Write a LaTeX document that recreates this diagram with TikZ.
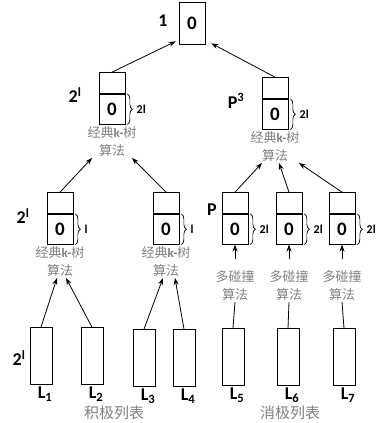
\documentclass[tikz,border=0pt]{standalone}
\usepackage{fontspec}
\setmainfont{Carlito}
\newfontfamily\cjk{Noto Sans CJK SC}
\usepackage{xcolor}
\usetikzlibrary{arrows.meta, positioning, calc, decorations.pathreplacing}

\begin{document}
\begin{tikzpicture}[
    x=1pt, y=-1pt,
    node distance = 1pt and 1pt,
    cell/.style = {rectangle, draw=black, line width=0.7pt, minimum width=26pt, inner sep=0pt, font=\fontsize{19}{20}\selectfont\bfseries},
    head/.style = {cell, minimum height=21pt},
    body/.style = {cell, minimum height=30pt},
    list/.style = {rectangle, draw=black, line width=0.7pt, minimum width=22pt, minimum height=57pt, inner sep=0pt},
    algo/.style = {align=center, text=black!50, inner sep=1pt, font=\fontsize{13}{18}\selectfont\cjk},
    caption/.style = {text=black!50, inner sep=1pt, font=\fontsize{15}{16}\selectfont\cjk},
    tag/.style = {inner sep=1pt, font=\fontsize{18}{20}\selectfont\bfseries},
    size/.style = {inner sep=1pt, font=\fontsize{12}{12}\selectfont\bfseries},
    arrow/.style = {-{Stealth[length=7pt,width=5pt]}, line width=0.8pt},
    link/.style = {line width=0.8pt},
    bracket/.style = {decorate, decoration={brace, amplitude=5pt}, line width=0.7pt}
]
    \useasboundingbox (0,0) rectangle (382,423);

    % root
    \node[cell, minimum height=42pt] (root) at (192,23) {0};
    \node[tag] (rootlab) at (163,21) {1};

    % second level
    \node[head] (lmh) at (112,83) {};
    \node[body, below=0pt of lmh] (lmb) {0};
    \node[algo, below=1pt of lmb] (lmt) {经典{\rmfamily\bfseries k-}树\\算法};
    \node[tag] (lmlab) at (75,95) {2\textsuperscript{l}};
    \draw[bracket] ([xshift=2pt]lmb.north east) -- ([xshift=2pt]lmb.south east) node[size, midway, right=8pt] (lmsize) {2l};

    \node[head] (rmh) at (275,88) {};
    \node[body, below=0pt of rmh] (rmb) {0};
    \node[algo, below=1pt of rmb] (rmt) {经典{\rmfamily\bfseries k-}树\\算法};
    \node[tag] (rmlab) at (236,101) {P\textsuperscript{3}};
    \draw[bracket] ([xshift=2pt]rmb.north east) -- ([xshift=2pt]rmb.south east) node[size, midway, right=8pt] (rmsize) {2l};

    % third level, left
    \node[head] (lah) at (60,203) {};
    \node[body, below=0pt of lah] (lab) {0};
    \node[algo, below=1pt of lab] (lat) {经典{\rmfamily\bfseries k-}树\\算法};
    \node[tag] (lalab) at (23,216) {2\textsuperscript{l}};
    \draw[bracket] ([xshift=2pt]lab.north east) -- ([xshift=2pt]lab.south east) node[size, midway, right=8pt] (lasize) {l};

    \node[head] (lbh) at (166,203) {};
    \node[body, below=0pt of lbh] (lbb) {0};
    \node[algo, below=1pt of lbb] (lbt) {经典{\rmfamily\bfseries k-}树\\算法};
    \draw[bracket] ([xshift=2pt]lbb.north east) -- ([xshift=2pt]lbb.south east) node[size, midway, right=8pt] (lbsize) {l};

    % third level, right
    \node[head] (rah) at (235,203) {};
    \node[body, below=0pt of rah] (rab) {0};
    \node[algo, below=25pt of rab] (rat) {多碰撞\\算法};
    \node[tag] (ralab) at (212,210) {P};
    \draw[bracket] ([xshift=2pt]rab.north east) -- ([xshift=2pt]rab.south east) node[size, midway, right=8pt] (rasize) {2l};

    \node[head] (rbh) at (289,203) {};
    \node[body, below=0pt of rbh] (rbb) {0};
    \node[algo, below=25pt of rbb] (rbt) {多碰撞\\算法};
    \draw[bracket] ([xshift=2pt]rbb.north east) -- ([xshift=2pt]rbb.south east) node[size, midway, right=8pt] (rbsize) {2l};

    \node[head] (rch) at (342,203) {};
    \node[body, below=0pt of rch] (rcb) {0};
    \node[algo, below=25pt of rcb] (rct) {多碰撞\\算法};
    \draw[bracket] ([xshift=2pt]rcb.north east) -- ([xshift=2pt]rcb.south east) node[size, midway, right=8pt] (rcsize) {2l};

    % lists
    \node[list] (l1) at (41,356) {};
    \node[list] (l2) at (92,356) {};
    \node[list] (l3) at (144,358) {};
    \node[list] (l4) at (184,358) {};
    \node[list] (l5) at (233,357) {};
    \node[list] (l6) at (288,357) {};
    \node[list] (l7) at (344,357) {};
    \node[tag] (listlab) at (19,358) {2\textsuperscript{l}};
    \node[tag, below=1pt of l1, xshift=4pt] (l1lab) {L\textsubscript{1}};
    \node[tag, below=1pt of l2, xshift=4pt] (l2lab) {L\textsubscript{2}};
    \node[tag, below=1pt of l3, xshift=4pt] (l3lab) {L\textsubscript{3}};
    \node[tag, below=1pt of l4, xshift=4pt] (l4lab) {L\textsubscript{4}};
    \node[tag, below=1pt of l5, xshift=4pt] (l5lab) {L\textsubscript{5}};
    \node[tag, below=1pt of l6, xshift=4pt] (l6lab) {L\textsubscript{6}};
    \node[tag, below=1pt of l7, xshift=4pt] (l7lab) {L\textsubscript{7}};
    \node[caption] (poslist) at (114,413) {积极列表};
    \node[caption] (neglist) at (290,413) {消极列表};

    % connectors
    \draw[arrow] (lmh.north) -- ([xshift=-3pt,yshift=3pt]root.south west);
    \draw[arrow] (rmh.north) -- ([xshift=6pt,yshift=1pt]root.south east);
    \draw[arrow] (lah.north) -- ([xshift=-20pt]lmt.south);
    \draw[arrow] (lbh.north) -- ([xshift=20pt]lmt.south);
    \draw[arrow] (rah.north) -- ([xshift=-13pt]rmt.south);
    \draw[arrow] (rbh.north) -- ([xshift=4pt]rmt.south);
    \draw[arrow] (rch.north) -- ([xshift=24pt]rmt.south);
    \draw[arrow] (l1.north) -- ([xshift=-3pt]lat.south);
    \draw[arrow] (l2.north) -- ([xshift=6pt]lat.south);
    \draw[arrow] (l3.north) -- ([xshift=-3pt]lbt.south);
    \draw[arrow] (l4.north) -- ([xshift=9pt]lbt.south);
    \draw[arrow, shorten <=11pt] (rat) -- (rab);
    \draw[arrow, shorten <=11pt] (rbt) -- (rbb);
    \draw[arrow, shorten <=11pt] (rct) -- (rcb);
    \draw[link] (l5.north) -- (rat.south);
    \draw[link] (l6.north) -- (rbt.south);
    \draw[link] (l7.north) -- (rct.south);
\end{tikzpicture}
\end{document}
